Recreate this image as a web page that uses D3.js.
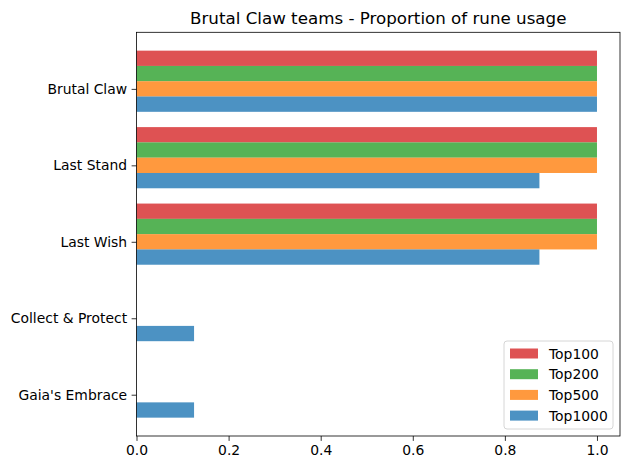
<!DOCTYPE html>
<html><head><meta charset="utf-8">
<script src="https://cdn.jsdelivr.net/npm/d3@7"></script>
<style>body{margin:0;background:#fff}svg{font-family:"DejaVu Sans",sans-serif}</style>
</head><body>
<svg id="c" width="630" height="470"></svg>
<script>
const categories = ["Brutal Claw", "Last Stand", "Last Wish", "Collect & Protect", "Gaia's Embrace"];
const seriesNames = ["Top100", "Top200", "Top500", "Top1000"];
const top100 = [1, 1, 1, 0, 0];
const top200 = [1, 1, 1, 0, 0];
const top500 = [1, 1, 1, 0, 0];
const top1000 = [1, 0.875, 0.875, 0.125, 0.125];
const xTicks = [0, 0.2, 0.4, 0.6, 0.8, 1.0];
const colors = ["#d62728", "#2ca02c", "#ff7f0e", "#1f77b4"];
const series = [top100, top200, top500, top1000];
const offsets = [-0.4, -0.2, 0, 0.2];

const svg = d3.select("#c");
const L = 136.5, R = 620, T = 32.3, B = 436;
const x = d3.scaleLinear().domain([0, 1.05]).range([L, R]);
const y = d3.scaleLinear().domain([-0.74, 4.54]).range([T, B]);
const bh = y(0.2) - y(0);

series.forEach((vals, s) => {
  svg.append("g").selectAll("rect").data(vals).join("rect")
    .attr("x", x(0))
    .attr("y", (d, i) => y(i + offsets[s] - 0.1))
    .attr("width", d => x(d) - x(0))
    .attr("height", bh)
    .attr("fill", colors[s]).attr("fill-opacity", 0.8);
});

const xa = svg.append("g").attr("transform", `translate(0,${B})`)
  .call(d3.axisBottom(x).tickValues(xTicks).tickFormat(d3.format(".1f")).tickSizeOuter(0).tickSize(4.9).tickPadding(4.5));
const ya = svg.append("g").attr("transform", `translate(${L},0)`)
  .call(d3.axisLeft(y).tickValues(d3.range(categories.length)).tickFormat(i => categories[i]).tickSizeOuter(0).tickSize(4.9).tickPadding(4.5));
[xa, ya].forEach(a => {
  a.selectAll("text").attr("font-size", "13.9px").attr("fill", "#000").attr("font-family", "DejaVu Sans");
  a.selectAll("line").attr("stroke", "#000").attr("stroke-width", 0.8);
  a.select(".domain").remove();
});
svg.append("rect").attr("x", L).attr("y", T).attr("width", R - L).attr("height", B - T)
  .attr("fill", "none").attr("stroke", "#000").attr("stroke-width", 0.8);

svg.append("text").attr("x", (L + R) / 2).attr("y", 24).attr("text-anchor", "middle")
  .attr("font-size", "16.7px").attr("fill", "#000").text("Brutal Claw teams - Proportion of rune usage");

const lg = svg.append("g");
lg.append("rect").attr("x", 504).attr("y", 341).attr("width", 109).attr("height", 88).attr("rx", 3)
  .attr("fill", "#fff").attr("fill-opacity", 0.8).attr("stroke", "#ccc").attr("stroke-width", 0.8);
seriesNames.forEach((n, i) => {
  const cy = 353.5 + i * 20.7;
  lg.append("rect").attr("x", 510).attr("y", cy - 5).attr("width", 28).attr("height", 10)
    .attr("fill", colors[i]).attr("fill-opacity", 0.8);
  lg.append("text").attr("x", 549).attr("y", cy + 5).attr("font-size", "13.9px").attr("fill", "#000").text(n);
});
</script>
</body></html>
